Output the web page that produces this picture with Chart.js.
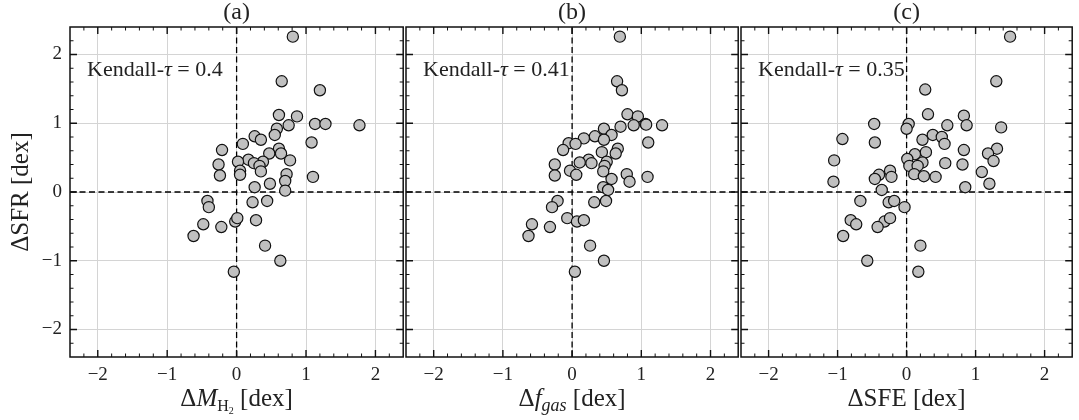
<!DOCTYPE html>
<html lang="en">
<head>
  <meta charset="UTF-8">
  <title>ΔSFR against ΔMH2, Δfgas and ΔSFE</title>
  <script src="https://cdn.jsdelivr.net/npm/chart.js"></script>
  <style>
    body { margin: 0; padding: 0; background: #fff; }
    #wrap { position: relative; width: 1079px; height: 420px; overflow: hidden; }
    canvas { position: absolute; top: 0; }
  </style>
</head>
<body>
  <div id="wrap">
    <canvas id="panel-a"></canvas>
    <canvas id="panel-b"></canvas>
    <canvas id="panel-c"></canvas>
  </div>

  <script>
    // axis setup shared by the three panels
    const axisMin = -2.4, axisMax = 2.4;
    const tickValues = [-2, -1, 0, 1, 2];
    const panelTitles = ['(a)', '(b)', '(c)'];
    const kendallTau = ['0.4', '0.41', '0.35'];

    // (a) ΔM_H2 vs ΔSFR
    const mh2X = [0.81, 0.65, 1.20, 0.61, 0.87, 0.58, 0.75, 1.13, 1.28, 1.77, 0.55, 0.26, 0.35, 0.09, -0.21,
                  1.08, 0.61, 0.47, 0.64, 0.17, 0.02, 0.38, 0.77, -0.26, 0.25, 0.33, 0.05, 0.35, -0.24, 0.05,
                  0.72, 0.70, 1.10, 0.26, 0.48, 0.70, -0.42, -0.40, 0.23, 0.44, -0.48, -0.22, -0.62, -0.02, 0.01,
                  0.28, 0.41, 0.63, -0.04];
    const mh2Y = [2.26, 1.61, 1.48, 1.12, 1.10, 0.92, 0.97, 0.99, 0.99, 0.97, 0.83, 0.81, 0.76, 0.70, 0.61,
                  0.72, 0.63, 0.56, 0.56, 0.47, 0.44, 0.44, 0.46, 0.40, 0.42, 0.38, 0.31, 0.30, 0.24, 0.25,
                  0.26, 0.16, 0.22, 0.07, 0.12, 0.02, -0.13, -0.22, -0.15, -0.13, -0.47, -0.51, -0.64, -0.43, -0.38,
                  -0.41, -0.78, -1.00, -1.16];

    // (b) Δf_gas vs ΔSFR
    const fgasX = [0.69, 0.65, 0.72, 0.80, 0.95, 0.70, 0.89, 1.06, 1.07, 1.30, 0.46, 0.57, 0.33, 0.46, 0.17,
                   -0.05, 0.05, -0.13, 1.10, 0.66, 0.43, 0.63, 0.24, 0.11, 0.50, -0.25, 0.28, 0.47, -0.03, 0.06,
                   0.45, -0.25, 0.79, 0.83, 1.09, 0.57, 0.45, 0.52, -0.21, -0.29, 0.32, 0.49, -0.58, -0.32, -0.63,
                   -0.07, 0.07, 0.17, 0.26, 0.46, 0.04];
    const fgasY = [2.26, 1.61, 1.48, 1.13, 1.10, 0.95, 0.97, 0.99, 0.98, 0.97, 0.92, 0.83, 0.81, 0.76, 0.78,
                   0.71, 0.70, 0.61, 0.72, 0.63, 0.58, 0.56, 0.47, 0.43, 0.44, 0.40, 0.42, 0.38, 0.31, 0.25,
                   0.30, 0.24, 0.26, 0.15, 0.22, 0.19, 0.07, 0.03, -0.13, -0.22, -0.15, -0.13, -0.47, -0.51, -0.64,
                   -0.38, -0.43, -0.41, -0.78, -1.00, -1.16];

    // (c) ΔSFE vs ΔSFR
    const sfeX = [1.50, 1.30, 0.27, 0.31, 0.83, 0.87, 1.37, 0.03, 0.00, -0.47, 0.59, 0.38, 0.51, 0.55, 0.23,
                  -0.93, -0.46, 0.83, 1.31, 1.18, 0.28, 0.12, 0.01, -1.05, 0.23, 0.04, 0.16, 0.56, 1.26, 0.81,
                  -0.24, -0.40, -0.22, -0.46, 0.11, 0.25, 0.42, 1.09, -1.06, 1.20, 0.85, -0.36, -0.67, -0.26, -0.18,
                  -0.03, -0.81, -0.73, -0.92, -0.32, -0.24, -0.42, 0.20, -0.57, 0.17];
    const sfeY = [2.26, 1.61, 1.49, 1.13, 1.11, 0.97, 0.94, 0.99, 0.92, 0.99, 0.97, 0.83, 0.80, 0.70, 0.76,
                  0.77, 0.72, 0.61, 0.63, 0.56, 0.58, 0.55, 0.48, 0.46, 0.43, 0.38, 0.38, 0.42, 0.45, 0.40,
                  0.31, 0.25, 0.22, 0.19, 0.26, 0.23, 0.22, 0.29, 0.15, 0.12, 0.07, 0.03, -0.13, -0.15, -0.13,
                  -0.22, -0.41, -0.47, -0.64, -0.43, -0.38, -0.51, -0.78, -1.00, -1.16];

    const SERIF = "'Liberation Serif', 'DejaVu Serif', serif";
    const TXT = '#222';

    // x axis titles, as pieces so the italic and subscript parts can be set
    const xTitles = [
      [{ t: 'Δ', s: 25 }, { t: 'M', s: 25, i: true }, { t: 'H', s: 16, dy: 5 }, { t: '2', s: 10, dy: 8 }, { t: ' [dex]', s: 25 }],
      [{ t: 'Δ', s: 25 }, { t: 'f', s: 25, i: true }, { t: 'gas', s: 18, i: true, dy: 5 }, { t: ' [dex]', s: 25 }],
      [{ t: 'ΔSFE [dex]', s: 25 }]
    ];

    function fmtTick(v) {
      return v < 0 ? '\u2212' + Math.abs(v) : String(v);
    }

    function fontOf(p) {
      return (p.i ? 'italic ' : '') + p.s + 'px ' + SERIF;
    }

    function drawPieces(ctx, pieces, x, baseline, align) {
      let total = 0;
      pieces.forEach(p => { ctx.font = fontOf(p); total += ctx.measureText(p.t).width; });
      let cx = align === 'center' ? x - total / 2 : x;
      ctx.textAlign = 'left';
      ctx.textBaseline = 'alphabetic';
      pieces.forEach(p => {
        ctx.font = fontOf(p);
        ctx.fillText(p.t, cx, baseline + (p.dy || 0));
        cx += ctx.measureText(p.t).width;
      });
    }

    // frame, inward ticks on every side, panel title, Kendall label and x title
    const framePlugin = {
      id: 'frame',
      afterDraw(chart, args, opts) {
        const { ctx, chartArea: a, scales: { x, y } } = chart;
        ctx.save();
        ctx.strokeStyle = '#111';
        for (let i = -22; i <= 22; i += 2) {
          const v = i / 10;
          const major = i % 10 === 0;
          const len = major ? 7 : 3.5;
          ctx.lineWidth = major ? 1.4 : 1;
          const px = x.getPixelForValue(v), py = y.getPixelForValue(v);
          ctx.beginPath();
          ctx.moveTo(px, a.bottom); ctx.lineTo(px, a.bottom - len);
          ctx.moveTo(px, a.top); ctx.lineTo(px, a.top + len);
          ctx.moveTo(a.left, py); ctx.lineTo(a.left + len, py);
          ctx.moveTo(a.right, py); ctx.lineTo(a.right - len, py);
          ctx.stroke();
        }
        ctx.lineWidth = 1.5;
        ctx.strokeRect(a.left, a.top, a.right - a.left, a.bottom - a.top);

        const mid = (a.left + a.right) / 2;
        ctx.fillStyle = TXT;
        ctx.font = '24px ' + SERIF;
        ctx.textAlign = 'center';
        ctx.textBaseline = 'middle';
        ctx.fillText(panelTitles[opts.idx], mid, 13);

        drawPieces(ctx, [{ t: 'Kendall-', s: 22 }, { t: 'τ', s: 22, i: true }, { t: ' = ' + kendallTau[opts.idx], s: 22 }],
          a.left + 17, a.top + 49, 'left');

        drawPieces(ctx, xTitles[opts.idx], mid, 406, 'center');
        ctx.restore();
      }
    };

    function makePanel(id, idx, left, padL, width, padR, xs, ys, showY) {
      const cv = document.getElementById(id);
      cv.width = padL + width + padR;
      cv.height = 420;
      cv.style.left = left + 'px';

      const pts = xs.map((v, k) => ({ x: v, y: ys[k] }));

      return new Chart(cv.getContext('2d'), {
        type: 'scatter',
        data: {
          datasets: [
            {
              data: pts,
              backgroundColor: '#c0c0c0',
              borderColor: '#111',
              borderWidth: 1.2,
              pointRadius: 5.6,
              order: 1
            },
            {
              data: [{ x: 0, y: axisMin }, { x: 0, y: axisMax }],
              showLine: true, pointRadius: 0,
              borderColor: '#000', borderWidth: 1.3, borderDash: [6, 3.5],
              order: 2
            },
            {
              data: [{ x: axisMin, y: 0 }, { x: axisMax, y: 0 }],
              showLine: true, pointRadius: 0,
              borderColor: '#000', borderWidth: 1.3, borderDash: [6, 3.5],
              order: 2
            }
          ]
        },
        options: {
          responsive: false,
          animation: false,
          layout: { padding: { top: 27, right: padR, left: 0, bottom: 0 } },
          plugins: {
            legend: { display: false },
            tooltip: { enabled: false },
            frame: { idx: idx }
          },
          scales: {
            x: {
              type: 'linear', min: axisMin, max: axisMax,
              afterBuildTicks: s => { s.ticks = tickValues.map(v => ({ value: v })); },
              afterFit: s => { s.height = 63; },
              grid: { color: '#d4d4d4', lineWidth: 1, drawTicks: false },
              border: { display: false },
              ticks: {
                font: { family: SERIF, size: 19 }, color: TXT, padding: 7,
                maxRotation: 0, autoSkip: false, callback: fmtTick
              }
            },
            y: {
              type: 'linear', min: axisMin, max: axisMax,
              afterBuildTicks: s => { s.ticks = tickValues.map(v => ({ value: v })); },
              afterFit: s => { s.width = padL; },
              grid: { color: '#d4d4d4', lineWidth: 1, drawTicks: false },
              border: { display: false },
              ticks: {
                display: showY,
                font: { family: SERIF, size: 19 }, color: TXT, padding: 8,
                autoSkip: false, callback: fmtTick
              },
              title: {
                display: showY, text: 'ΔSFR [dex]', color: TXT,
                font: { family: SERIF, size: 25 }, padding: { top: 6, bottom: 0 }
              }
            }
          }
        },
        plugins: [framePlugin]
      });
    }

    makePanel('panel-a', 0, 0, 70, 336, 4, mh2X, mh2Y, true);
    makePanel('panel-b', 1, 396, 10, 335, 4, fgasX, fgasY, false);
    makePanel('panel-c', 2, 731, 10, 336, 2, sfeX, sfeY, false);
  </script>
</body>
</html>
